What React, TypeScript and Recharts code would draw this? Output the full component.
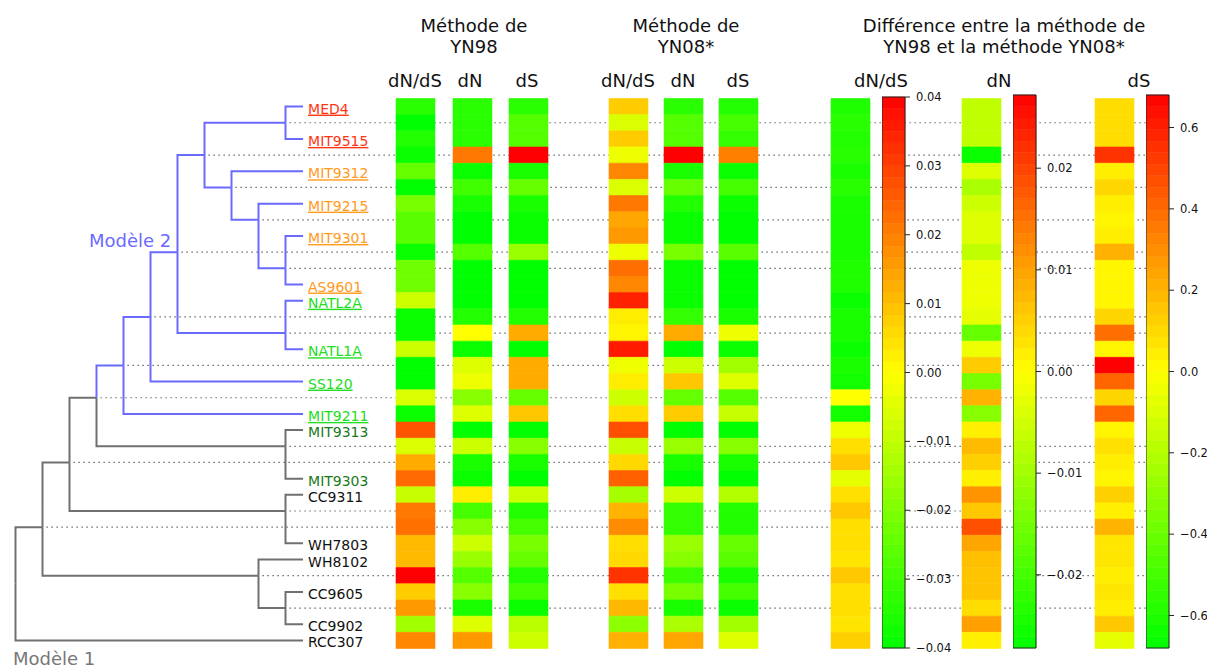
import React from 'react';
import { ComposedChart, Line, Scatter, XAxis, YAxis, ReferenceArea } from 'recharts';

const W = 1207;
const H = 669;
const FONT = '"DejaVu Sans", Verdana, sans-serif';

// ---- tree (cladogram): one row per branch, 34 rows ----
const INTERNAL_IDS = ['N', 'L', 'J', 'I', 'H', 'F', 'B', 'C', 'D', 'A', 'E', 'G', 'K', 'M', 'O', 'P'];
const INTERNAL_ROWS = [26, 22, 18, 16, 13, 9, 3, 5, 7, 1, 10, 14, 21, 25, 29, 31];
const INTERNAL_LEVELS = [1, 2, 3, 4, 5, 6, 7, 8, 9, 10, 10, 10, 10, 10, 9, 10];
const INTERNAL_PARENTS = ['root', 'N', 'L', 'J', 'I', 'H', 'F', 'B', 'C', 'B', 'D', 'F', 'J', 'L', 'N', 'O'];

const LEAF_NAMES = ['MED4', 'MIT9515', 'MIT9312', 'MIT9215', 'MIT9301', 'AS9601', 'NATL2A', 'NATL1A', 'SS120',
  'MIT9211', 'MIT9313', 'MIT9303', 'CC9311', 'WH7803', 'WH8102', 'CC9605', 'CC9902', 'RCC307'];
const LEAF_ROWS = [0, 2, 4, 6, 8, 11, 12, 15, 17, 19, 20, 23, 24, 27, 28, 30, 32, 33];
const LEAF_PARENTS = ['A', 'A', 'C', 'D', 'E', 'E', 'G', 'G', 'H', 'I', 'K', 'K', 'M', 'M', 'O', 'P', 'P', 'root'];
const LEAF_LEVEL = 10.65;
const ROOT_ROW = 29.5;
const MODEL2_CLADE = 'I';

// ---- heatmap values (YN98 / YN08*: position on the colour scale, -1 green .. 1 red) ----
const YN98_DNDS = [-0.84, -1, -0.87, -0.96, -0.6, -1, -0.53, -0.65, -0.65, -0.96, -0.56, -0.56, -0.2, -0.96, -0.96, -0.2, -1,
  -1, -0.15, -0.96, 0.67, -0.15, 0.33, 0.58, -0.22, 0.53, 0.56, 0.27, 0.27, 1, 0.2, 0.4, -0.37, 0.47];
const YN98_DN = [-0.84, -0.84, -0.84, 0.53, -0.96, -0.75, -0.91, -1, -1, -0.67, -1, -1, -1, -0.87, 0, -0.96, -0.13,
  -0.07, -0.47, -0.13, -1, -0.2, -0.9, -0.96, 0.07, -0.73, -0.47, -0.2, -0.4, -0.67, -0.47, -0.9, -0.13, 0.4];
const YN98_DS = [-0.84, -0.67, -0.67, 1, -0.9, -0.6, -0.9, -0.96, -0.96, -0.4, -1, -1, -1, -0.87, 0.33, -1, 0.33,
  0.33, -0.6, 0.22, -1, -0.47, -0.9, -1, -0.2, -0.87, -0.73, -0.53, -0.6, -0.87, -0.73, -0.96, -0.27, -0.2];
const YN08_DNDS = [0.2, -0.15, 0.2, -0.07, 0.47, -0.15, 0.53, 0.35, 0.4, -0.07, 0.57, 0.47, 0.87, 0.07, 0.04, 0.9, -0.06,
  0.07, -0.2, 0.13, 0.69, -0.22, 0.15, 0.62, -0.35, 0.29, 0.45, 0.13, 0.15, 0.8, 0.12, 0.28, -0.45, 0.31];
const YN08_DN = [-0.84, -0.67, -0.67, 1, -0.9, -0.6, -0.87, -0.96, -0.96, -0.53, -0.96, -0.96, -0.96, -0.8, 0.33, -1, -0.2,
  0.22, -0.6, 0.2, -1, -0.4, -0.9, -1, -0.2, -0.8, -0.8, -0.4, -0.47, -0.77, -0.53, -0.9, -0.33, 0.35];
const YN08_DS = [-0.87, -0.73, -0.8, 0.5, -0.96, -0.73, -0.96, -1, -1, -0.65, -1, -1, -1, -0.9, -0.07, -0.96, -0.37,
  -0.13, -0.67, -0.22, -1, -0.47, -0.9, -1, -0.3, -0.87, -0.87, -0.6, -0.65, -0.9, -0.73, -0.96, -0.37, -0.13];

// ---- differences YN98 - YN08* ----
const DIFF_DNDS = [-0.0353, -0.0337, -0.0347, -0.0337, -0.0359, -0.0337, -0.0359, -0.0359, -0.0359, -0.0359, -0.035,
  -0.035, -0.0384, -0.0359, -0.0359, -0.0384, -0.0359, -0.0372, 0, -0.0372, -0.0027, 0.005, 0.0086, -0.0039, 0.0048,
  0.0086, 0.005, 0.005, 0.0042, 0.0086, 0.0048, 0.005, 0.0042, 0.0074];
const DIFF_DN = [-0.0067, -0.0067, -0.0067, -0.0261, -0.0036, -0.0091, -0.0054, -0.0036, -0.0036, -0.0067, -0.0018,
  -0.0018, -0.0018, -0.0027, -0.0163, -0.0018, 0.0054, -0.0145, 0.0081, -0.0127, 0.0016, 0.0073, 0.005, 0.0016, 0.0114,
  0.0059, 0.0187, 0.0096, 0.0067, 0.0063, 0.0063, 0.0036, 0.0101, 0.0016];
const DIFF_DS = [0.09, 0.09, 0.09, 0.544, 0.045, 0.107, 0.045, 0.027, 0.045, 0.211, 0.024, 0.024, 0.024, 0.112, 0.387,
  0.027, 0.68, 0.408, 0.112, 0.408, 0.027, 0.082, 0.045, 0.027, 0.125, 0.04, 0.2, 0.067, 0.067, 0.045, 0.067, 0.045,
  0.147, -0.068];

const DNDS_RANGE = [-0.04, 0.04];
const DN_RANGE = [-0.0272, 0.0272];
const DS_RANGE = [-0.68, 0.68];
const DNDS_TICKS = [-0.04, -0.03, -0.02, -0.01, 0, 0.01, 0.02, 0.03, 0.04];
const DN_TICKS = [-0.02, -0.01, 0, 0.01, 0.02];
const DS_TICKS = [-0.6, -0.4, -0.2, 0, 0.2, 0.4, 0.6];

// ---- layout / style ----
const PLOT_TOP = 98.5;
const PLOT_BOTTOM = 648.5;
const levelX = (lvl: number) => 15.5 + 27 * lvl;
const DOT_END_X = 1146;
const CELL_W = 39;
const BLUE = '#6a6aff';
const GREY = '#707070';

const LEAF_STYLE: Record<string, { color: string; underline: boolean }> = {
  MED4: { color: '#ff3311', underline: true },
  MIT9515: { color: '#ff3311', underline: true },
  MIT9312: { color: '#ff9a1a', underline: true },
  MIT9215: { color: '#ff9a1a', underline: true },
  MIT9301: { color: '#ff9a1a', underline: true },
  AS9601: { color: '#ff9a1a', underline: true },
  NATL2A: { color: '#22dd22', underline: true },
  NATL1A: { color: '#22dd22', underline: true },
  SS120: { color: '#22dd22', underline: true },
  MIT9211: { color: '#22dd22', underline: true },
  MIT9313: { color: '#1a7a1a', underline: false },
  MIT9303: { color: '#1a7a1a', underline: false },
};

// green -> yellow -> red
function cmap(t: number) {
  const c = Math.max(0, Math.min(1, t));
  let r = 255;
  let g = 255;
  if (c < 0.5) r = Math.round(255 * (c / 0.5));
  else g = Math.round(255 * (1 - (c - 0.5) / 0.5));
  return `rgb(${r},${g},0)`;
}

const nodes: Record<string, { row: number; level: number; parent: string | null }> = {
  root: { row: ROOT_ROW, level: 0, parent: null },
};
INTERNAL_IDS.forEach((id, i) => {
  nodes[id] = { row: INTERNAL_ROWS[i], level: INTERNAL_LEVELS[i], parent: INTERNAL_PARENTS[i] };
});
LEAF_NAMES.forEach((id, i) => {
  nodes[id] = { row: LEAF_ROWS[i], level: LEAF_LEVEL, parent: LEAF_PARENTS[i] };
});

function inModel2(id: string) {
  let cur: string | null = id;
  while (cur) {
    if (cur === MODEL2_CLADE) return true;
    cur = nodes[cur].parent;
  }
  return false;
}

const branches = [...INTERNAL_IDS, ...LEAF_NAMES].map((id) => {
  const c = nodes[id];
  const p = nodes[c.parent as string];
  return {
    id,
    colour: inModel2(id) ? BLUE : GREY,
    pts: [
      { x: levelX(p.level), y: p.row },
      { x: levelX(p.level), y: c.row },
      { x: levelX(c.level), y: c.row },
    ],
  };
});

const guides = INTERNAL_IDS.map((id) => ({
  id,
  pts: [
    { x: levelX(nodes[id].level) + 4, y: nodes[id].row },
    { x: DOT_END_X, y: nodes[id].row },
  ],
}));

const leaves = LEAF_NAMES.map((name, i) => ({ name, x: levelX(LEAF_LEVEL), y: LEAF_ROWS[i] }));

const COLUMNS = [
  { values: YN98_DNDS, range: [-1, 1], left: 396 },
  { values: YN98_DN, range: [-1, 1], left: 453 },
  { values: YN98_DS, range: [-1, 1], left: 509 },
  { values: YN08_DNDS, range: [-1, 1], left: 609 },
  { values: YN08_DN, range: [-1, 1], left: 664 },
  { values: YN08_DS, range: [-1, 1], left: 719 },
  { values: DIFF_DNDS, range: DNDS_RANGE, left: 831 },
  { values: DIFF_DN, range: DN_RANGE, left: 962 },
  { values: DIFF_DS, range: DS_RANGE, left: 1095 },
];

const COLORBARS = [
  { range: DNDS_RANGE, ticks: DNDS_TICKS, decimals: 2, left: 882, top: 97 },
  { range: DN_RANGE, ticks: DN_TICKS, decimals: 2, left: 1013, top: 95 },
  { range: DS_RANGE, ticks: DS_TICKS, decimals: 1, left: 1146, top: 95 },
];
const N_BANDS = 48;

const LeafLabel = (props: any) => {
  const { cx, cy, payload } = props;
  const st = LEAF_STYLE[payload.name] || { color: '#111', underline: false };
  return (
    <text
      x={cx + 5}
      y={cy}
      dy={7}
      fontSize={14}
      fontFamily={FONT}
      fill={st.color}
      style={st.underline ? { textDecoration: 'underline' } : undefined}
    >
      {payload.name}
    </text>
  );
};

const chartMargin = { top: PLOT_TOP, bottom: H - PLOT_BOTTOM, left: 0, right: 0 };

const TreeChart = () => (
  <ComposedChart width={W} height={H} margin={chartMargin}>
    <XAxis type="number" dataKey="x" domain={[0, W]} hide allowDataOverflow />
    <YAxis type="number" dataKey="y" domain={[-0.5, 33.5]} reversed hide allowDataOverflow />
    {guides.map((g) => (
      <Line
        key={'g' + g.id}
        data={g.pts}
        dataKey="y"
        stroke="#444"
        strokeWidth={1.2}
        strokeDasharray="1.2 3.8"
        dot={false}
        activeDot={false}
        isAnimationActive={false}
      />
    ))}
    {branches.map((b) => (
      <Line
        key={'b' + b.id}
        data={b.pts}
        dataKey="y"
        stroke={b.colour}
        strokeWidth={2}
        dot={false}
        activeDot={false}
        isAnimationActive={false}
      />
    ))}
    <Scatter data={leaves} shape={LeafLabel} isAnimationActive={false} />
  </ComposedChart>
);

const HeatmapChart = () => (
  <ComposedChart width={W} height={H} margin={chartMargin}>
    <XAxis type="number" dataKey="x" domain={[0, W]} hide allowDataOverflow />
    <YAxis type="number" dataKey="y" domain={[-0.5, 33.5]} reversed hide allowDataOverflow />
    {COLUMNS.map((col, ci) =>
      col.values.map((v, r) => {
        const fill = cmap((v - col.range[0]) / (col.range[1] - col.range[0]));
        return (
          <ReferenceArea
            key={`c${ci}-${r}`}
            x1={col.left}
            x2={col.left + CELL_W}
            y1={r - 0.5}
            y2={r + 0.5}
            fill={fill}
            fillOpacity={1}
            stroke={fill}
            strokeWidth={0.6}
            ifOverflow="visible"
          />
        );
      })
    )}
  </ComposedChart>
);

const fmt = (d: number) => (v: number) => (v < 0 ? '\u2212' : '') + Math.abs(v).toFixed(d);

const Colorbar = ({ range, ticks, decimals, top }: any) => {
  const [lo, hi] = range;
  const bands = Array.from({ length: N_BANDS }, (_, i) => ({
    y1: lo + ((hi - lo) * i) / N_BANDS,
    y2: lo + ((hi - lo) * (i + 1)) / N_BANDS,
    fill: cmap((i + 0.5) / N_BANDS),
  }));
  return (
    <ComposedChart width={23 + 52} height={H} margin={{ top, bottom: H - 648, left: 0, right: 0 }}>
      <XAxis type="number" dataKey="x" domain={[0, 1]} hide allowDataOverflow />
      <YAxis
        type="number"
        dataKey="y"
        orientation="right"
        width={52}
        domain={[lo, hi]}
        ticks={ticks}
        interval={0}
        allowDataOverflow
        tickFormatter={fmt(decimals)}
        tickSize={5}
        tickMargin={6}
        axisLine={false}
        tickLine={{ stroke: '#222' }}
        tick={{ fontSize: 11.5, fill: '#111', fontFamily: FONT }}
      />
      {bands.map((b, i) => (
        <ReferenceArea key={i} x1={0} x2={1} y1={b.y1} y2={b.y2} fill={b.fill} fillOpacity={1}
          stroke={b.fill} strokeWidth={0.5} ifOverflow="visible" />
      ))}
      <ReferenceArea x1={0} x2={1} y1={lo} y2={hi} fill="none" fillOpacity={0} stroke="#222" strokeWidth={1}
        ifOverflow="visible" />
    </ComposedChart>
  );
};

const Titles = () => (
  <svg width={W} height={H} style={{ position: 'absolute', left: 0, top: 0, pointerEvents: 'none' }}>
    <g fontFamily={FONT} fontSize={18} fill="#111" textAnchor="middle">
      <text x={474} y={32}>Méthode de</text>
      <text x={474} y={53}>YN98</text>
      <text x={686} y={32}>Méthode de</text>
      <text x={686} y={53}>YN08*</text>
      <text x={1004} y={31.5}>Différence entre la méthode de</text>
      <text x={1004} y={52.5}>YN98 et la méthode YN08*</text>
      <text x={415} y={87}>dN/dS</text>
      <text x={470} y={87}>dN</text>
      <text x={527} y={87}>dS</text>
      <text x={628} y={87}>dN/dS</text>
      <text x={683} y={87}>dN</text>
      <text x={738} y={87}>dS</text>
      <text x={881} y={87}>dN/dS</text>
      <text x={999} y={87}>dN</text>
      <text x={1139} y={87}>dS</text>
    </g>
    <text x={89} y={247} fontFamily={FONT} fontSize={18} fill={BLUE}>Modèle 2</text>
    <text x={13} y={665} fontFamily={FONT} fontSize={18} fill="#777">Modèle 1</text>
  </svg>
);

export default function App() {
  return (
    <div style={{ position: 'absolute', left: 0, top: 0, width: W, height: H, background: '#fff', overflow: 'hidden' }}>
      <div style={{ position: 'absolute', left: 0, top: 0 }}>
        <TreeChart />
      </div>
      <div style={{ position: 'absolute', left: 0, top: 0 }}>
        <HeatmapChart />
      </div>
      {COLORBARS.map((cb, i) => (
        <div key={i} style={{ position: 'absolute', left: cb.left, top: 0 }}>
          <Colorbar {...cb} />
        </div>
      ))}
      <Titles />
    </div>
  );
}
